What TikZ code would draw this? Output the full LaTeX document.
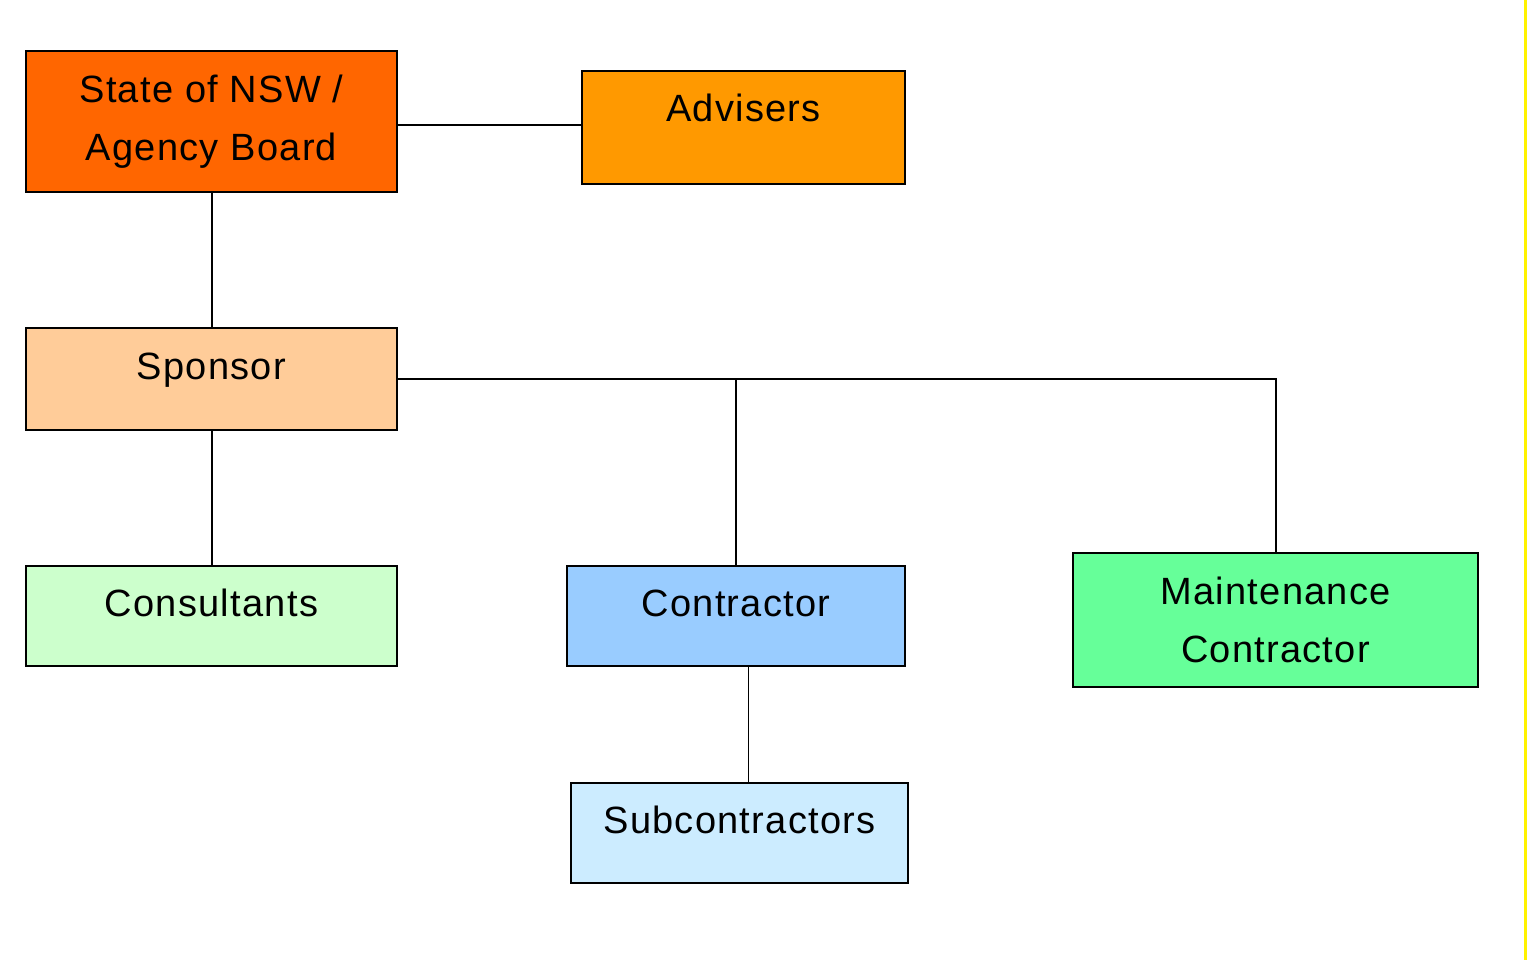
\documentclass[tikz,border=0pt]{standalone}
\usepackage{fontspec}
\setmainfont{Liberation Sans}[LetterSpace=3.3]
\usetikzlibrary{positioning}

\definecolor{boardorange}{HTML}{FF6600}
\definecolor{adviserorange}{HTML}{FF9900}
\definecolor{sponsorpeach}{HTML}{FFCC99}
\definecolor{consultgreen}{HTML}{CCFFCC}
\definecolor{contractblue}{HTML}{99CCFF}
\definecolor{subblue}{HTML}{CCECFF}
\definecolor{maintgreen}{HTML}{66FF99}

\tikzset{
  orgbox/.style={draw,line width=1pt,rectangle,inner sep=0pt,font=\fontsize{19}{29}\selectfont},
  oneline/.style={text height=13pt,text depth=#1},
  twoline/.style={align=center},
  link/.style={line width=1pt}
}

\begin{document}
\begin{tikzpicture}[x=0.5pt,y=-0.5pt]
\useasboundingbox (0,0) rectangle (1527,960);
\node[orgbox,twoline,fill=boardorange,minimum width=185.5pt,minimum height=70.5pt] (board) at (211.5,121.5) {State of NSW /\\Agency Board};
\node[orgbox,oneline=18.9pt,fill=adviserorange,minimum width=161.5pt,minimum height=56.5pt] (advisers) at (743.5,127.5) {Advisers};
\node[orgbox,oneline=13pt,fill=sponsorpeach,minimum width=185.5pt,minimum height=51pt] (sponsor) at (211.5,379) {Sponsor};
\node[orgbox,oneline=13pt,fill=consultgreen,minimum width=185.5pt,minimum height=50pt] (consultants) at (211.5,616) {Consultants};
\node[orgbox,oneline=13pt,fill=contractblue,minimum width=169pt,minimum height=50pt] (contractor) at (736,616) {Contractor};
\node[orgbox,oneline=13pt,fill=subblue,minimum width=168.5pt,minimum height=50pt] (subcontractors) at (739.5,833) {Subcontractors};
\node[orgbox,twoline,fill=maintgreen,minimum width=202.5pt,minimum height=67pt] (maintenance) at (1275.5,620) {Maintenance\\Contractor};
\draw[link] ([yshift=-1.75pt]board.east) -- ([yshift=-1.75pt]board.east -| advisers.west);
\draw[link] (board.south) -- (sponsor.north);
\draw[link] (sponsor.south) -- (consultants.north);
\draw[link] (sponsor.east) -| (maintenance.north);
\draw[link] (contractor.north) -- (contractor.north |- sponsor.east);
\draw[line width=0.5pt] ([xshift=6pt]contractor.south) -- ([xshift=6pt]contractor.south |- subcontractors.north);
% yellow edge on the right
\draw[yellow,line width=1.5pt] (1525,0) -- (1525,960);
\end{tikzpicture}
\end{document}
